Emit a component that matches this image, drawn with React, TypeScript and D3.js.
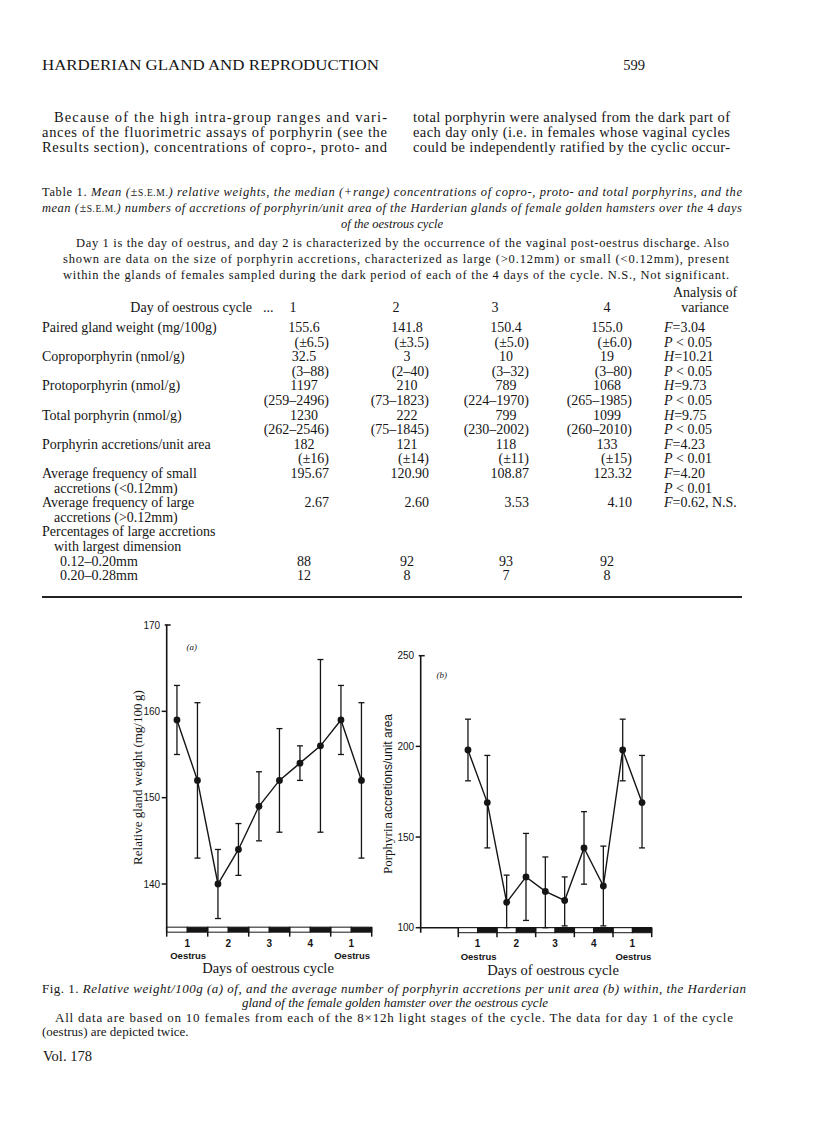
import React from "react";
import * as d3 from "d3";

// ---------- data ----------
const dayLabels = ["1", "2", "3", "4", "1"];
const dayNotes = ["Oestrus", "", "", "", "Oestrus"];
const halfDaySlots = [0, 1, 2, 3, 4, 5, 6, 7, 8, 9];

const weightMean = [159, 152, 140, 144, 149, 152, 154, 156, 159, 152];
const weightUpper = [163, 161, 144, 147, 153, 158, 156, 166, 163, 161];
const weightLower = [155, 143, 136, 141, 145, 146, 152, 146, 155, 143];
const weightTicks = [140, 150, 160, 170];

const accrMean = [198, 169, 114, 128, 120, 115, 144, 123, 198, 169];
const accrUpper = [215, 195, 129, 152, 139, 128, 164, 145, 215, 195];
const accrLower = [181, 144, 100, 104, 100, 101, 124, 101, 181, 144];
const accrTicks = [100, 150, 200, 250];

const tableDays = ["1", "2", "3", "4"];
const gwMean = ["155.6", "141.8", "150.4", "155.0"];
const gwSem = ["(\u00B16.5)", "(\u00B13.5)", "(\u00B15.0)", "(\u00B16.0)"];
const copro = ["32.5", "3", "10", "19"];
const coproRange = ["(3\u201388)", "(2\u201340)", "(3\u201332)", "(3\u201380)"];
const proto = ["1197", "210", "789", "1068"];
const protoRange = ["(259\u20132496)", "(73\u20131823)", "(224\u20131970)", "(265\u20131985)"];
const total = ["1230", "222", "799", "1099"];
const totalRange = ["(262\u20132546)", "(75\u20131845)", "(230\u20132002)", "(260\u20132010)"];
const accr = ["182", "121", "118", "133"];
const accrSem = ["(\u00B116)", "(\u00B114)", "(\u00B111)", "(\u00B115)"];
const smallFreq = ["195.67", "120.90", "108.87", "123.32"];
const largeFreq = ["2.67", "2.60", "3.53", "4.10"];
const pctSmallDim = ["88", "92", "93", "92"];
const pctLargeDim = ["12", "8", "7", "8"];

const paraLeft = [
  "Because of the high intra-group ranges and vari-",
  "ances of the fluorimetric assays of porphyrin (see the",
  "Results section), concentrations of copro-, proto- and",
];
const paraRight = [
  "total porphyrin were analysed from the dark part of",
  "each day only (i.e. in females whose vaginal cycles",
  "could be independently ratified by the cyclic occur-",
];
const noteLines = [
  "Day 1 is the day of oestrus, and day 2 is characterized by the occurrence of the vaginal post-oestrus discharge. Also",
  "shown are data on the size of porphyrin accretions, characterized as large (>0.12mm) or small (<0.12mm), present",
  "within the glands of females sampled during the dark period of each of the 4 days of the cycle. N.S., Not significant.",
];

const SERIF = "'Liberation Serif', 'Times New Roman', serif";
const SANS = "'Liberation Sans', Arial, sans-serif";
const INK = "#151515";

// ---------- chart component ----------
type ChartProps = {
  mean: number[];
  upper: number[];
  lower: number[];
  ticks: number[];
  axisX: number;
  xRange: [number, number];
  yDomain: [number, number];
  yRange: [number, number];
  barTopVal: number;
  baseline: boolean;
  tag: string;
  tagPos: [number, number];
  yLabel: React.ReactNode;
  yLabelPos: [number, number];
  labelY: number;
  titleX: number;
  titleY: number;
};

function ErrChart(p: ChartProps) {
  const x = d3.scaleLinear().domain([0, 10]).range(p.xRange);
  const y = d3.scaleLinear().domain(p.yDomain).range(p.yRange);
  const barTop = y(p.barTopVal);
  const barH = 5;
  const axisBottom = barTop + barH;
  const line = d3
    .line<number>()
    .x((_, i) => x(i + 0.5))
    .y((d) => y(d));
  const topTick = p.ticks[p.ticks.length - 1];
  return (
    <g>
      <line x1={p.axisX} x2={p.axisX} y1={y(topTick) - 0.5} y2={axisBottom} stroke={INK} strokeWidth={1.6} />
      {p.ticks.map((t, i) => (
        <g key={t}>
          <line
            x1={i === p.ticks.length - 1 ? p.axisX - 2 : p.axisX - 5}
            x2={i === p.ticks.length - 1 ? p.axisX + 4 : p.axisX}
            y1={y(t)}
            y2={y(t)}
            stroke={INK}
            strokeWidth={1.5}
          />
          <text x={p.axisX - 6.5} y={y(t) + 3.5} textAnchor="end" fontFamily={SANS} fontSize={10} fontWeight={500} fill={INK}>
            {t}
          </text>
        </g>
      ))}
      {p.baseline && <line x1={p.axisX} x2={p.xRange[1]} y1={barTop} y2={barTop} stroke={INK} strokeWidth={1.5} />}
      {halfDaySlots.map((i) => (
        <rect
          key={i}
          x={x(i)}
          y={barTop}
          width={x(i + 1) - x(i)}
          height={barH}
          fill={i % 2 === 0 ? "#fff" : INK}
          stroke={INK}
          strokeWidth={1}
        />
      ))}
      {dayLabels.map((d, k) => (
        <g key={k}>
          <text x={x(2 * k + 1)} y={p.labelY} textAnchor="middle" fontFamily={SANS} fontSize={10} fontWeight={600} fill={INK}>
            {d}
          </text>
          {dayNotes[k] && (
            <text x={x(2 * k + 1) + 1} y={p.labelY + 12.5} textAnchor="middle" fontFamily={SANS} fontSize={9.5} fontWeight={600} fill={INK}>
              {dayNotes[k]}
            </text>
          )}
        </g>
      ))}
      {[0, 2, 4, 6, 8, 10].map((b) => (
        <line key={b} x1={x(b)} x2={x(b)} y1={barTop} y2={axisBottom + 4.5} stroke={INK} strokeWidth={1.5} />
      ))}
      <text x={p.titleX} y={p.titleY} textAnchor="middle" fontFamily={SERIF} fontSize={14.5} fill={INK}>
        Days of oestrous cycle
      </text>
      <text x={p.tagPos[0]} y={p.tagPos[1]} textAnchor="middle" fontFamily={SERIF} fontStyle="italic" fontSize={9} fill={INK}>
        {p.tag}
      </text>
      <text
        transform={`translate(${p.yLabelPos[0]},${p.yLabelPos[1]}) rotate(-90)`}
        textAnchor="middle"
        fontFamily={SERIF}
        fontSize={13}
        fill={INK}
      >
        {p.yLabel}
      </text>
      {p.mean.map((m, i) => (
        <g key={i} stroke={INK} strokeWidth={1.3}>
          <line x1={x(i + 0.5)} x2={x(i + 0.5)} y1={y(p.upper[i])} y2={y(p.lower[i])} />
          <line x1={x(i + 0.5) - 3} x2={x(i + 0.5) + 3} y1={y(p.upper[i])} y2={y(p.upper[i])} />
          <line x1={x(i + 0.5) - 3} x2={x(i + 0.5) + 3} y1={y(p.lower[i])} y2={y(p.lower[i])} />
        </g>
      ))}
      <path d={line(p.mean) || ""} fill="none" stroke={INK} strokeWidth={1.4} />
      {p.mean.map((m, i) => (
        <circle key={i} cx={x(i + 0.5)} cy={y(m)} r={3.4} fill={INK} />
      ))}
    </g>
  );
}

// ---------- table helpers ----------
const ROW0 = 332;
const ROWSTEP = 14.6;
const FS = 14;
const rowY = (r: number) => ROW0 + r * ROWSTEP;
const colCenter = [304, 407, 506, 607];
const colEnd = [329, 429, 529, 632];
const statX = 664;

function Stat({ r, letter, rest }: { r: number; letter: string; rest: string }) {
  return (
    <text x={statX} y={rowY(r)} fontFamily={SERIF} fontSize={FS} fill={INK}>
      <tspan fontStyle="italic">{letter}</tspan>
      {rest}
    </text>
  );
}

function Vals({ r, vals, anchor }: { r: number; vals: string[]; anchor: "middle" | "end" }) {
  return (
    <g>
      {vals.map((v, i) => (
        <text
          key={i}
          x={anchor === "middle" ? colCenter[i] : colEnd[i]}
          y={rowY(r)}
          textAnchor={anchor}
          fontFamily={SERIF}
          fontSize={FS}
          fill={INK}
        >
          {v}
        </text>
      ))}
    </g>
  );
}

function Label({ r, text, indent = 0 }: { r: number; text: string; indent?: number }) {
  return (
    <text x={42 + indent} y={rowY(r)} fontFamily={SERIF} fontSize={FS} fill={INK}>
      {text}
    </text>
  );
}

export default function App() {
  return (
    <svg width={816} height={1136} style={{ position: "absolute", left: 0, top: 0, background: "#fff" }}>
      <rect width={816} height={1136} fill="#fff" />
      <text x={42} y={70} fontFamily={SERIF} fontSize={14.5} textLength={337} lengthAdjust="spacingAndGlyphs" fill={INK}>
        HARDERIAN GLAND AND REPRODUCTION
      </text>
      <text x={645} y={70} textAnchor="end" fontFamily={SERIF} fontSize={14.5} fill={INK}>
        599
      </text>

      {paraLeft.map((t, i) => (
        <text
          key={i}
          x={i === 0 ? 54 : 42}
          y={122 + i * 15}
          fontFamily={SERIF}
          fontSize={14.5}
          textLength={i === 0 ? 333 : 345}
          lengthAdjust="spacing"
          fill={INK}
        >
          {t}
        </text>
      ))}
      {paraRight.map((t, i) => (
        <text key={i} x={413} y={122 + i * 15} fontFamily={SERIF} fontSize={14.5} textLength={317} lengthAdjust="spacing" fill={INK}>
          {t}
        </text>
      ))}

      <text x={42} y={196} fontFamily={SERIF} fontSize={12.5} textLength={700} lengthAdjust="spacing" fill={INK}>
        Table 1. <tspan fontStyle="italic">Mean (±</tspan>
        <tspan fontSize={9.5}>S.E.M.</tspan>
        <tspan fontStyle="italic">) relative weights, the median (+range) concentrations of copro-, proto- and total porphyrins, and the</tspan>
      </text>
      <text x={42} y={212} fontFamily={SERIF} fontSize={12.5} fontStyle="italic" textLength={700} lengthAdjust="spacing" fill={INK}>
        mean (±<tspan fontStyle="normal" fontSize={9.5}>S.E.M.</tspan>) numbers of accretions of porphyrin/unit area of the Harderian glands of female golden hamsters over the <tspan fontStyle="normal">4</tspan> days
      </text>
      <text x={392} y={228} textAnchor="middle" fontFamily={SERIF} fontSize={12.5} fontStyle="italic" fill={INK}>
        of the oestrous cycle
      </text>
      {noteLines.map((t, i) => (
        <text
          key={i}
          x={i === 0 ? 76 : 63}
          y={247 + i * 16}
          fontFamily={SERIF}
          fontSize={12.5}
          textLength={i === 0 ? 653 : 666}
          lengthAdjust="spacing"
          fill={INK}
        >
          {t}
        </text>
      ))}

      <text x={705} y={297} textAnchor="middle" fontFamily={SERIF} fontSize={FS} fill={INK}>
        Analysis of
      </text>
      <text x={705} y={312} textAnchor="middle" fontFamily={SERIF} fontSize={FS} fill={INK}>
        variance
      </text>
      <text x={252} y={312} textAnchor="end" fontFamily={SERIF} fontSize={FS} fill={INK}>
        Day of oestrous cycle
      </text>
      <text x={263} y={312} fontFamily={SERIF} fontSize={FS} fill={INK}>
        ...
      </text>
      {tableDays.map((d, i) => (
        <text key={i} x={[293, 396, 495, 607][i]} y={312} textAnchor="middle" fontFamily={SERIF} fontSize={FS} fill={INK}>
          {d}
        </text>
      ))}

      <Label r={0} text="Paired gland weight (mg/100g)" />
      <Vals r={0} vals={gwMean} anchor="middle" />
      <Stat r={0} letter="F" rest="=3.04" />
      <Vals r={1} vals={gwSem} anchor="end" />
      <Stat r={1} letter="P" rest=" < 0.05" />

      <Label r={2} text="Coproporphyrin (nmol/g)" />
      <Vals r={2} vals={copro} anchor="middle" />
      <Stat r={2} letter="H" rest="=10.21" />
      <Vals r={3} vals={coproRange} anchor="end" />
      <Stat r={3} letter="P" rest=" < 0.05" />

      <Label r={4} text="Protoporphyrin (nmol/g)" />
      <Vals r={4} vals={proto} anchor="middle" />
      <Stat r={4} letter="H" rest="=9.73" />
      <Vals r={5} vals={protoRange} anchor="end" />
      <Stat r={5} letter="P" rest=" < 0.05" />

      <Label r={6} text="Total porphyrin (nmol/g)" />
      <Vals r={6} vals={total} anchor="middle" />
      <Stat r={6} letter="H" rest="=9.75" />
      <Vals r={7} vals={totalRange} anchor="end" />
      <Stat r={7} letter="P" rest=" < 0.05" />

      <Label r={8} text="Porphyrin accretions/unit area" />
      <Vals r={8} vals={accr} anchor="middle" />
      <Stat r={8} letter="F" rest="=4.23" />
      <Vals r={9} vals={accrSem} anchor="end" />
      <Stat r={9} letter="P" rest=" < 0.01" />

      <Label r={10} text="Average frequency of small" />
      <Vals r={10} vals={smallFreq} anchor="end" />
      <Stat r={10} letter="F" rest="=4.20" />
      <Label r={11} text="accretions (<0.12mm)" indent={12} />
      <Stat r={11} letter="P" rest=" < 0.01" />

      <Label r={12} text="Average frequency of large" />
      <Vals r={12} vals={largeFreq} anchor="end" />
      <Stat r={12} letter="F" rest="=0.62, N.S." />
      <Label r={13} text="accretions (>0.12mm)" indent={12} />

      <Label r={14} text="Percentages of large accretions" />
      <Label r={15} text="with largest dimension" indent={12} />
      <Label r={16} text="0.12–0.20mm" indent={18} />
      <Vals r={16} vals={pctSmallDim} anchor="middle" />
      <Label r={17} text="0.20–0.28mm" indent={18} />
      <Vals r={17} vals={pctLargeDim} anchor="middle" />

      <line x1={42} x2={742} y1={597} y2={597} stroke="#222" strokeWidth={2.2} />

      <ErrChart
        mean={weightMean}
        upper={weightUpper}
        lower={weightLower}
        ticks={weightTicks}
        axisX={166.7}
        xRange={[166.7, 371.7]}
        yDomain={[140, 170]}
        yRange={[884, 625]}
        barTopVal={135}
        baseline={false}
        tag="(a)"
        tagPos={[191.7, 650]}
        yLabel={"Relative gland weight (mg/100\u2009g)"}
        yLabelPos={[141.5, 777.5]}
        labelY={946.5}
        titleX={268}
        titleY={973}
      />
      <ErrChart
        mean={accrMean}
        upper={accrUpper}
        lower={accrLower}
        ticks={accrTicks}
        axisX={420.7}
        xRange={[458.3, 651.7]}
        yDomain={[100, 250]}
        yRange={[927.7, 655.7]}
        barTopVal={100}
        baseline={true}
        tag="(b)"
        tagPos={[441.7, 678]}
        yLabel={
          <>
            <tspan>Porphyrin </tspan>
            <tspan fontFamily={SANS} fontSize={12}>accretions/unit area</tspan>
          </>
        }
        yLabelPos={[391.5, 794]}
        labelY={947}
        titleX={553}
        titleY={975}
      />

      <text x={42} y={993} fontFamily={SERIF} fontSize={13} textLength={704} lengthAdjust="spacing" fill={INK}>
        Fig. 1. <tspan fontStyle="italic">Relative weight/100g (a) of, and the average number of porphyrin accretions per unit area (b) within, the Harderian</tspan>
      </text>
      <text x={395} y={1007} textAnchor="middle" fontFamily={SERIF} fontSize={13} fontStyle="italic" fill={INK}>
        gland of the female golden hamster over the oestrous cycle
      </text>
      <text x={55} y={1022} fontFamily={SERIF} fontSize={13} textLength={678} lengthAdjust="spacing" fill={INK}>
        All data are based on 10 females from each of the 8×12h light stages of the cycle. The data for day 1 of the cycle
      </text>
      <text x={42} y={1036} fontFamily={SERIF} fontSize={13} fill={INK}>
        (oestrus) are depicted twice.
      </text>
      <text x={43} y={1061} fontFamily={SERIF} fontSize={14.5} fill={INK}>
        Vol. 178
      </text>
    </svg>
  );
}
